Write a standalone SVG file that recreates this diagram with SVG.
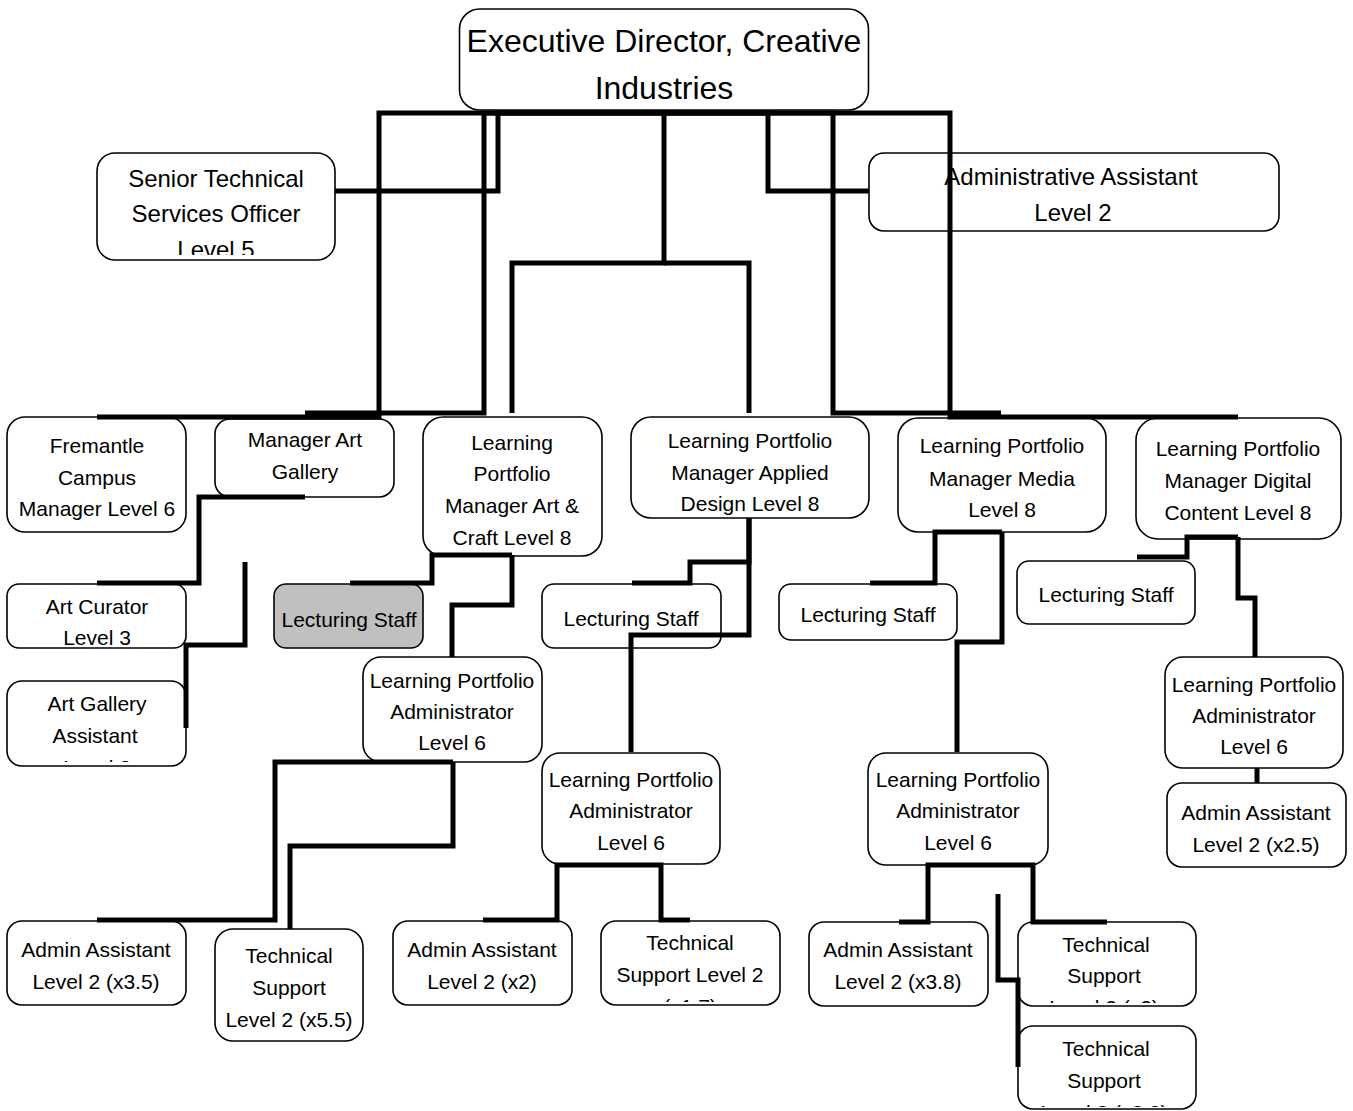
<svg xmlns="http://www.w3.org/2000/svg" width="1353" height="1111" viewBox="0 0 1353 1111">
<style>
.box{fill:#fff;stroke:#000;stroke-width:1.6}
.gray{fill:#c0c0c0}
text{font-family:"Liberation Sans",Arial,sans-serif;font-size:21px;text-anchor:middle;fill:#000}
.big{font-size:24px}
.exec{font-size:32px}
#connectors path{fill:none;stroke:#000;stroke-width:5;stroke-linejoin:miter;stroke-linecap:butt}
</style>
<defs>
<clipPath id="c-sto"><rect x="97" y="153" width="238" height="102"/></clipPath>
<clipPath id="c-mag"><rect x="215" y="419" width="179" height="77"/></clipPath>
<clipPath id="c-aga"><rect x="7" y="681" width="179" height="81"/></clipPath>
<clipPath id="c-ts17"><rect x="601" y="921" width="179" height="81"/></clipPath>
<clipPath id="c-ts2"><rect x="1018" y="922" width="178" height="81"/></clipPath>
<clipPath id="c-ts23"><rect x="1018" y="1026" width="178" height="81"/></clipPath>
</defs>
<rect width="1353" height="1111" fill="#fff"/>

<g id="exec">
<rect class="box" x="459.5" y="9" width="409" height="101" rx="20"/>
<text class="exec" x="664" y="52">Executive Director, Creative</text>
<text class="exec" x="664" y="99">Industries</text>
</g>

<g id="senior-tech">
<rect class="box" x="97" y="153" width="238" height="107" rx="18"/>
<g clip-path="url(#c-sto)">
<text class="big" x="216" y="187">Senior Technical</text>
<text class="big" x="216" y="222">Services Officer</text>
<text class="big" x="216" y="258">Level 5</text>
</g>
</g>

<g id="admin-assistant-top">
<rect class="box" x="869" y="153" width="410" height="78" rx="15"/>
<text class="big" x="1071" y="185">Administrative Assistant</text>
<text class="big" x="1073" y="221">Level 2</text>
</g>

<g id="fremantle">
<rect class="box" x="7" y="417" width="179" height="115" rx="18"/>
<text x="97" y="453">Fremantle</text>
<text x="97" y="485">Campus</text>
<text x="97" y="516">Manager Level 6</text>
</g>

<g id="manager-art-gallery">
<rect class="box" x="215" y="419" width="179" height="78" rx="15"/>
<g clip-path="url(#c-mag)">
<text x="305" y="447">Manager Art</text>
<text x="305" y="479">Gallery</text>
<text x="305" y="511">Level 6</text>
</g>
</g>

<g id="lpm-art-craft">
<rect class="box" x="423" y="417" width="179" height="139" rx="20"/>
<text x="512" y="450">Learning</text>
<text x="512" y="481">Portfolio</text>
<text x="512" y="513">Manager Art &amp;</text>
<text x="512" y="545">Craft Level 8</text>
</g>

<g id="lpm-applied-design">
<rect class="box" x="631" y="417" width="238" height="101" rx="20"/>
<text x="750" y="448">Learning Portfolio</text>
<text x="750" y="480">Manager Applied</text>
<text x="750" y="511">Design Level 8</text>
</g>

<g id="lpm-media">
<rect class="box" x="898" y="418" width="208" height="114" rx="20"/>
<text x="1002" y="453">Learning Portfolio</text>
<text x="1002" y="486">Manager Media</text>
<text x="1002" y="517">Level 8</text>
</g>

<g id="lpm-digital">
<rect class="box" x="1136" y="418" width="205" height="121" rx="22"/>
<text x="1238" y="456">Learning Portfolio</text>
<text x="1238" y="488">Manager Digital</text>
<text x="1238" y="520">Content Level 8</text>
</g>

<g id="art-curator">
<rect class="box" x="7" y="584" width="179" height="64" rx="12"/>
<text x="97" y="614">Art Curator</text>
<text x="97" y="645">Level 3</text>
</g>

<g id="art-gallery-assistant">
<rect class="box" x="7" y="681" width="179" height="85" rx="15"/>
<g clip-path="url(#c-aga)">
<text x="97" y="711">Art Gallery</text>
<text x="95" y="743">Assistant</text>
<text x="97" y="775">Level 2</text>
</g>
</g>

<g id="lecturing-art-craft">
<rect class="box gray" x="274" y="584" width="149" height="64" rx="12"/>
<text x="349" y="627">Lecturing Staff</text>
</g>

<g id="lecturing-applied">
<rect class="box" x="542" y="584" width="179" height="64" rx="12"/>
<text x="631" y="626">Lecturing Staff</text>
</g>

<g id="lecturing-media">
<rect class="box" x="779" y="584" width="178" height="56" rx="12"/>
<text x="868" y="622">Lecturing Staff</text>
</g>

<g id="lecturing-digital">
<rect class="box" x="1017" y="561" width="178" height="63" rx="12"/>
<text x="1106" y="602">Lecturing Staff</text>
</g>

<g id="lpa-art-craft">
<rect class="box" x="363" y="657" width="179" height="105" rx="18"/>
<text x="452" y="688">Learning Portfolio</text>
<text x="452" y="719">Administrator</text>
<text x="452" y="750">Level 6</text>
</g>

<g id="lpa-applied">
<rect class="box" x="542" y="753" width="178" height="111" rx="18"/>
<text x="631" y="787">Learning Portfolio</text>
<text x="631" y="818">Administrator</text>
<text x="631" y="850">Level 6</text>
</g>

<g id="lpa-media">
<rect class="box" x="868" y="753" width="180" height="112" rx="18"/>
<text x="958" y="787">Learning Portfolio</text>
<text x="958" y="818">Administrator</text>
<text x="958" y="850">Level 6</text>
</g>

<g id="lpa-digital">
<rect class="box" x="1165" y="657" width="178" height="111" rx="18"/>
<text x="1254" y="692">Learning Portfolio</text>
<text x="1254" y="723">Administrator</text>
<text x="1254" y="754">Level 6</text>
</g>

<g id="admin-x2-5">
<rect class="box" x="1167" y="783" width="179" height="84" rx="15"/>
<text x="1256" y="820">Admin Assistant</text>
<text x="1256" y="852">Level 2 (x2.5)</text>
</g>

<g id="admin-x3-5">
<rect class="box" x="7" y="921" width="179" height="84" rx="15"/>
<text x="96" y="957">Admin Assistant</text>
<text x="96" y="989">Level 2 (x3.5)</text>
</g>

<g id="tech-x5-5">
<rect class="box" x="215" y="929" width="148" height="112" rx="18"/>
<text x="289" y="963">Technical</text>
<text x="289" y="995">Support</text>
<text x="289" y="1027">Level 2 (x5.5)</text>
</g>

<g id="admin-x2">
<rect class="box" x="393" y="921" width="179" height="84" rx="15"/>
<text x="482" y="957">Admin Assistant</text>
<text x="482" y="989">Level 2 (x2)</text>
</g>

<g id="tech-x1-7">
<rect class="box" x="601" y="921" width="179" height="84" rx="15"/>
<g clip-path="url(#c-ts17)">
<text x="690" y="950">Technical</text>
<text x="690" y="982">Support Level 2</text>
<text x="690" y="1014">(x1.7)</text>
</g>
</g>

<g id="admin-x3-8">
<rect class="box" x="809" y="922" width="179" height="84" rx="15"/>
<text x="898" y="957">Admin Assistant</text>
<text x="898" y="989">Level 2 (x3.8)</text>
</g>

<g id="tech-x2">
<rect class="box" x="1018" y="922" width="178" height="84" rx="15"/>
<g clip-path="url(#c-ts2)">
<text x="1106" y="952">Technical</text>
<text x="1104" y="983">Support</text>
<text x="1104" y="1015">Level 2 (x2)</text>
</g>
</g>

<g id="tech-x2-3">
<rect class="box" x="1018" y="1026" width="178" height="83" rx="15"/>
<g clip-path="url(#c-ts23)">
<text x="1106" y="1056">Technical</text>
<text x="1104" y="1088">Support</text>
<text x="1104" y="1120">Level 2 (x2.3)</text>
</g>
</g>

<g id="connectors">
<path d="M664,113 H379 V417 H97"/>
<path d="M664,113 H484 V413 H305"/>
<path d="M664,113 H498 V191 H335"/>
<path d="M664,113 V263 H512 V413"/>
<path d="M664,263 H749 V413"/>
<path d="M664,113 H768 V191 H869"/>
<path d="M664,113 H833 V413 H1001"/>
<path d="M664,113 H950 V417 H1238"/>
<path d="M305,497 H199 V583 H97"/>
<path d="M245,562 V645 H186 V728"/>
<path d="M512,555 H432 V583 H350"/>
<path d="M512,555 V605 H452 V657"/>
<path d="M453,762 H275 V920 H97"/>
<path d="M453,762 V846 H290 V929"/>
<path d="M749,518 V562 H690 V583 H632"/>
<path d="M749,518 V635 H631 V752"/>
<path d="M631,865 H557 V920 H483"/>
<path d="M631,865 H661 V920 H690"/>
<path d="M1002,532 H935 V583 H870"/>
<path d="M1002,532 V642 H957 V752"/>
<path d="M958,865 H928 V922 H899"/>
<path d="M958,865 H1033 V922 H1107"/>
<path d="M998,894 V980 H1018 V1067"/>
<path d="M1238,537 H1187 V557 H1137"/>
<path d="M1238,537 V598 H1255 V657"/>
<path d="M1257,768 V783"/>
</g>
</svg>
